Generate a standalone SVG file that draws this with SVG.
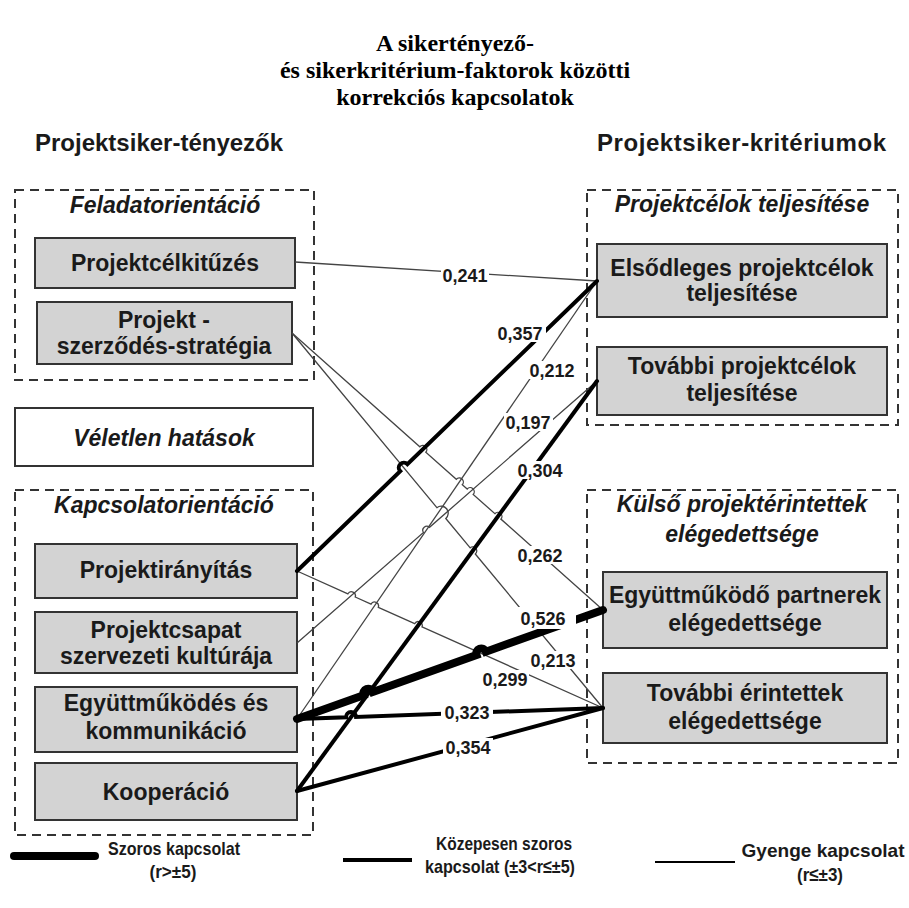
<svg xmlns="http://www.w3.org/2000/svg" width="909" height="908" viewBox="0 0 909 908">
<style>
.grp{fill:none;stroke:#333;stroke-width:2;stroke-dasharray:9,6}
.box{fill:#d3d3d3;stroke:#333;stroke-width:2}
.wbox{fill:#fff;stroke:#333;stroke-width:2}
.t{font-family:"Liberation Sans",Arial,sans-serif;font-weight:bold;font-size:23px;fill:#1a1a1a;text-anchor:middle}
.i{font-style:italic}
.h{font-size:24px;text-anchor:start}
.ttl{font-family:"Liberation Serif","Times New Roman",serif;font-weight:bold;font-size:24px;fill:#000;text-anchor:middle}
.lbl{font-size:18px}
.leg{font-size:19px}
.lbg{fill:#fff}
.thin{stroke:#444;stroke-width:1.3;fill:none}
.med{stroke:#000;stroke-width:4;fill:none;stroke-linecap:round}
.thick{stroke:#000;stroke-width:8;fill:none;stroke-linecap:round}
</style>

<g id="title">
<text class="ttl" x="455" y="51">A sikertényező-</text>
<text class="ttl" x="455" y="78">és sikerkritérium-faktorok közötti</text>
<text class="ttl" x="455" y="105">korrekciós kapcsolatok</text>
</g>
<text class="t h" x="35" y="151">Projektsiker-tényezők</text>
<text class="t h" x="597" y="151" textLength="289" lengthAdjust="spacing">Projektsiker-kritériumok</text>

<g id="grp-feladat">
<rect class="grp" x="15" y="190" width="299" height="190"/>
<text class="t i" x="165" y="213">Feladatorientáció</text>
</g>
<g id="node-celkituzes">
<rect class="box" x="35" y="238" width="260" height="50"/>
<text class="t" x="165" y="271">Projektcélkitűzés</text>
</g>
<g id="node-szerzodes">
<rect class="box" x="37" y="302" width="255" height="62"/>
<text class="t" x="164" y="328">Projekt -</text>
<text class="t" x="164" y="354">szerződés-stratégia</text>
</g>
<g id="node-veletlen">
<rect class="wbox" x="15" y="408" width="298" height="58"/>
<text class="t i" x="164" y="446">Véletlen hatások</text>
</g>
<g id="grp-kapcsolat">
<rect class="grp" x="15" y="490" width="298" height="345"/>
<text class="t i" x="164" y="513">Kapcsolatorientáció</text>
</g>
<g id="node-iranyitas">
<rect class="box" x="35" y="544" width="262" height="54"/>
<text class="t" x="166" y="578">Projektirányítás</text>
</g>
<g id="node-csapat">
<rect class="box" x="35" y="612" width="262" height="61"/>
<text class="t" x="166" y="638">Projektcsapat</text>
<text class="t" x="166" y="664">szervezeti kultúrája</text>
</g>
<g id="node-egyuttmukodes">
<rect class="box" x="35" y="687" width="262" height="65"/>
<text class="t" x="166" y="711">Együttműködés és</text>
<text class="t" x="166" y="739">kommunikáció</text>
</g>
<g id="node-kooperacio">
<rect class="box" x="35" y="763" width="262" height="57"/>
<text class="t" x="166" y="800">Kooperáció</text>
</g>

<g id="grp-celok">
<rect class="grp" x="587" y="190" width="311" height="235"/>
<text class="t i" x="742" y="212">Projektcélok teljesítése</text>
</g>
<g id="node-elsodleges">
<rect class="box" x="597" y="244" width="290" height="73"/>
<text class="t" x="742" y="276">Elsődleges projektcélok</text>
<text class="t" x="742" y="301">teljesítése</text>
</g>
<g id="node-tovabbi-celok">
<rect class="box" x="597" y="347" width="290" height="68"/>
<text class="t" x="742" y="374">További projektcélok</text>
<text class="t" x="742" y="401">teljesítése</text>
</g>
<g id="grp-kulso">
<rect class="grp" x="587" y="490" width="311" height="273"/>
<text class="t i" x="742" y="512">Külső projektérintettek</text>
<text class="t i" x="742" y="542">elégedettsége</text>
</g>
<g id="node-partnerek">
<rect class="box" x="603" y="572" width="284" height="76"/>
<text class="t" x="745" y="603">Együttműködő partnerek</text>
<text class="t" x="745" y="631">elégedettsége</text>
</g>
<g id="node-tovabbi-erintettek">
<rect class="box" x="603" y="673" width="284" height="70"/>
<text class="t" x="745" y="701">További érintettek</text>
<text class="t" x="745" y="729">elégedettsége</text>
</g>

<g id="connectors">
<path class="thin" d="M295,262 L597,281"/>
<path class="thin" d="M297,719 L597,281"/>
<path class="thin" d="M297,643 L423.5,532.5 A4 4 0 0 1 429.5,527.3 L597,381"/>
<path class="thin" d="M292,333 L419.8,446.8 A4 4 0 0 1 425.8,452.2 L456.3,479.3 A4 4 0 0 1 462.3,484.7 L467.2,489.0 A4 4 0 0 1 473.2,494.4 L494.9,513.7 A4 4 0 0 1 500.9,519.1 L603,610"/>
<path class="thin" d="M292,333 L436.9,507.7 A7 7 0 0 1 445.8,518.5 L470.2,547.8 A4 4 0 0 1 475.3,554.0 L603,708"/>
<path class="thin" d="M297,571 L347.9,593.8 A4 4 0 0 1 355.2,597.0 L371.0,604.1 A4 4 0 0 1 378.3,607.3 L414.7,623.7 A4 4 0 0 1 422.0,626.9 L603,708"/>
<path class="med" d="M297,571 L400.2,471.2 A5 5 0 0 1 407.4,464.2 L597,281"/>
<path class="med" d="M297,791 L597,381"/>
<path class="thick" d="M297,719 L363.5,695.3 A5 5 0 0 1 372.9,691.9 L476.5,655.1 A5 5 0 0 1 485.9,651.7 L603,610"/>
<path class="med" d="M297,719 L346.1,717.3 A5 5 0 0 1 356.1,716.9 L603,708"/>
<path class="med" d="M297,791 L603,708"/>
</g>

<g id="labels">
<rect class="lbg" x="441" y="266" width="48" height="18"/><text class="t lbl" x="465" y="282">0,241</text>
<rect class="lbg" x="496" y="324" width="50" height="18"/><text class="t lbl" x="520" y="340">0,357</text>
<rect class="lbg" x="528" y="361" width="48" height="18"/><text class="t lbl" x="552" y="377">0,212</text>
<rect class="lbg" x="504" y="413" width="49" height="18"/><text class="t lbl" x="528" y="429">0,197</text>
<rect class="lbg" x="516" y="461" width="48" height="18"/><text class="t lbl" x="540" y="477">0,304</text>
<rect class="lbg" x="516" y="546" width="48" height="18"/><text class="t lbl" x="540" y="562">0,262</text>
<rect class="lbg" x="518" y="607" width="58" height="22"/><text class="t lbl" x="543" y="625">0,526</text>
<rect class="lbg" x="529" y="651" width="48" height="18"/><text class="t lbl" x="553" y="667">0,213</text>
<rect class="lbg" x="481" y="670" width="48" height="18"/><text class="t lbl" x="505" y="686">0,299</text>
<rect class="lbg" x="441" y="703" width="52" height="18"/><text class="t lbl" x="467" y="719">0,323</text>
<rect class="lbg" x="443" y="738" width="50" height="18"/><text class="t lbl" x="468" y="754">0,354</text>
</g>

<g id="legend">
<line x1="14" y1="856" x2="95" y2="856" stroke="#000" stroke-width="8" stroke-linecap="round"/>
<text class="t leg" x="108" y="855" style="text-anchor:start" textLength="132" lengthAdjust="spacingAndGlyphs">Szoros kapcsolat</text>
<text class="t leg" x="173" y="878" textLength="47" lengthAdjust="spacingAndGlyphs">(r&gt;±5)</text>
<line x1="343" y1="860" x2="412" y2="860" stroke="#000" stroke-width="4"/>
<text class="t leg" x="504" y="850" textLength="136" lengthAdjust="spacingAndGlyphs">Közepesen szoros</text>
<text class="t leg" x="500" y="873" textLength="150" lengthAdjust="spacingAndGlyphs">kapcsolat (±3&lt;r≤±5)</text>
<line x1="655" y1="862" x2="735" y2="862" stroke="#000" stroke-width="2"/>
<text class="t leg" x="823" y="857" textLength="163" lengthAdjust="spacingAndGlyphs">Gyenge kapcsolat</text>
<text class="t leg" x="820" y="881" textLength="46" lengthAdjust="spacingAndGlyphs">(r≤±3)</text>
</g>
</svg>
